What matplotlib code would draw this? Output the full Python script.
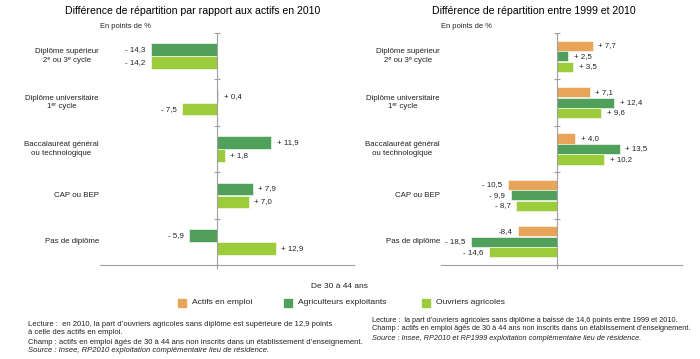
import matplotlib
matplotlib.use('Agg')
import matplotlib.pyplot as plt
from matplotlib.patches import Rectangle

plt.rcParams['font.family'] = ['Liberation Sans', 'DejaVu Sans']

categories = ['Diplôme supérieur\n2ᵉ ou 3ᵉ cycle', 'Diplôme universitaire\n1ᵉʳ cycle',
              'Baccalauréat général\nou technologique', 'CAP ou BEP', 'Pas de diplôme']

# difference par rapport aux actifs en 2010
agri_2010 = [-14.3, 0.4, 11.9, 7.9, -5.9]
ouvr_2010 = [-14.2, -7.5, 1.8, 7.0, 12.9]

# difference entre 1999 et 2010
actifs_evol = [7.7, 7.1, 4.0, -10.5, -8.4]
agri_evol = [2.5, 12.4, 13.5, -9.9, -18.5]
ouvr_evol = [3.5, 9.6, 10.2, -8.7, -14.6]

c_actifs = '#E8A458'
c_agri = '#50A05C'
c_ouvr = '#9CCB3C'
grey = '#A0A0A0'
txt = '#222222'


def fmt(v):
    s = f'{abs(v):.1f}'.replace('.', ',')
    return ('+ ' if v >= 0 else '- ') + s


fig = plt.figure(figsize=(7, 3.59), dpi=100)
ax1 = fig.add_axes([0.143, 0.262, 0.363, 0.646])
ax2 = fig.add_axes([0.630, 0.262, 0.344, 0.646])


def setup(ax, xlim):
    ax.set_xlim(*xlim)
    ax.set_ylim(4.5, -0.5)
    for s in ['top', 'right']:
        ax.spines[s].set_visible(False)
    ax.spines['left'].set_position(('data', 0))
    ax.spines['left'].set_color(grey)
    ax.spines['bottom'].set_color(grey)
    ax.spines['left'].set_linewidth(0.8)
    ax.spines['bottom'].set_linewidth(0.8)
    ax.set_yticks([])
    ax.set_yticks([-0.5, 0.5, 1.5, 2.5, 3.5, 4.5], minor=True)
    ax.tick_params(axis='y', which='minor', direction='inout', length=5, color=grey, width=0.8)
    ax.set_xticks([0])
    ax.set_xticklabels([''])
    ax.tick_params(axis='x', direction='out', length=3, color=grey, width=0.8)
    for i, c in enumerate(categories):
        ax.text(-0.005, i, c, transform=ax.get_yaxis_transform(), ha='right', va='center',
                multialignment='center', fontsize=5.7, color=txt, linespacing=1.3)


def bars(ax, vals, offset, h, color, labels=None):
    ys = [i + offset for i in range(len(vals))]
    ax.barh(ys, vals, height=h, color=color, edgecolor='white', linewidth=0.4)
    for k, (y, v) in enumerate(zip(ys, vals)):
        lab = labels[k] if labels else fmt(v)
        pad = 1.2
        if v >= 0:
            ax.text(v + pad, y, lab, ha='left', va='center', fontsize=5.7, color=txt)
        else:
            ax.text(v - pad, y, lab, ha='right', va='center', fontsize=5.7, color=txt)


setup(ax1, (-25.3, 29.9))
bars(ax1, agri_2010, -0.14, 0.27, c_agri)
bars(ax1, ouvr_2010, 0.14, 0.27, c_ouvr)

setup(ax2, (-24.9, 26.9))
actifs_labels = [fmt(v) for v in actifs_evol]
actifs_labels[4] = '-8,4'
bars(ax2, actifs_evol, -0.225, 0.22, c_actifs, actifs_labels)
bars(ax2, agri_evol, 0.0, 0.22, c_agri)
bars(ax2, ouvr_evol, 0.225, 0.22, c_ouvr)

fig.text(193 / 700, 1 - 11 / 359, 'Différence de répartition par rapport aux actifs en 2010',
         ha='center', va='center', fontsize=7.6)
fig.text(534 / 700, 1 - 11 / 359, 'Différence de répartition entre 1999 et 2010',
         ha='center', va='center', fontsize=7.6)
fig.text(100 / 700, 1 - 26 / 359, 'En points de %', ha='left', va='center', fontsize=5.4, color=txt)
fig.text(441 / 700, 1 - 26 / 359, 'En points de %', ha='left', va='center', fontsize=5.4, color=txt)

fig.text(339 / 700, 1 - 286 / 359, 'De 30 à 44 ans', ha='center', va='center', fontsize=6.0, color=txt)

legend_items = [('Actifs en emploi', c_actifs, 178), ('Agriculteurs exploitants', c_agri, 284),
                ('Ouvriers agricoles', c_ouvr, 422)]
ly = 1 - 303 / 359
for name, col, px in legend_items:
    fig.patches.append(Rectangle((px / 700, ly - 4 / 359), 8 / 700, 8 / 359, color=col,
                                 transform=fig.transFigure, figure=fig))
    fig.text((px + 14) / 700, ly, name, ha='left', va='center', fontsize=6.1, color=txt)

left_notes = ['Lecture :  en 2010, la part d\u2019ouvriers agricoles sans diplôme est supérieure de 12,9 points',
              'à celle des actifs en emploi.',
              'Champ : actifs en emploi âgés de 30 à 44 ans non inscrits dans un établissement d\u2019enseignement.']
right_notes = ['Lecture :  la part d\u2019ouvriers agricoles sans diplôme a baissé de 14,6 points entre 1999 et 2010.',
               'Champ : actifs en emploi âgés de 30 à 44 ans non inscrits dans un établissement d\u2019enseignement.']
left_src = 'Source : Insee, RP2010 exploitation complémentaire lieu de résidence.'
right_src = 'Source : Insee, RP2010 et RP1999 exploitation complémentaire lieu de résidence.'

for k, line in enumerate(left_notes):
    fig.text(28 / 700, 1 - (324 + 9 * k) / 359, line, ha='left', va='center', fontsize=5.5, color=txt)
fig.text(28 / 700, 1 - (324 + 27) / 359, left_src, ha='left', va='center', fontsize=5.5,
         style='italic', color=txt)
for k, line in enumerate(right_notes):
    fig.text(372 / 700, 1 - (320 + 9 * k) / 359, line, ha='left', va='center', fontsize=5.3, color=txt)
fig.text(372 / 700, 1 - (320 + 18) / 359, right_src, ha='left', va='center', fontsize=5.3,
         style='italic', color=txt)

fig.savefig('out.png', dpi=100)
